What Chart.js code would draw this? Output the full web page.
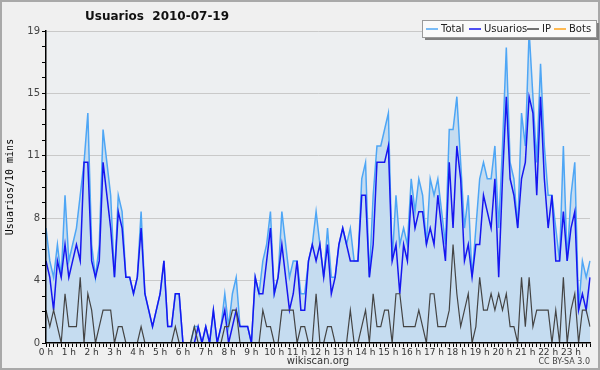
<!DOCTYPE html>
<html><head><meta charset="utf-8">
<script src="https://cdn.jsdelivr.net/npm/chart.js@4"></script>
<style>html,body{margin:0;padding:0;background:#f0f0f0;}#wrap{width:600px;height:370px;position:relative;}</style>
</head><body>
<div id="wrap"><canvas id="c" width="600" height="370"></canvas></div>
<script>
const chartTitle = 'Usuarios  2010-07-19';
const hourLabels = ['0 h','1 h','2 h','3 h','4 h','5 h','6 h','7 h','8 h','9 h','10 h','11 h','12 h','13 h','14 h','15 h','16 h','17 h','18 h','19 h','20 h','21 h','22 h','23 h'];
const yTickLabels = ['0','4','8','11','15','19'];
const yMax = 19;
const seriesNames = ['Total','Usuarios','IP','Bots'];
const totalValues = [
 7,5,4,6,4,9,5,6,7,9,
 11,14,6,4,6,13,11,9,4,9,
 8,4,4,3,4,8,3,2,1,2,
 3,5,1,1,3,3,0,0,0,1,
 1,0,1,0,2,0,1,3,1,3,
 4,1,1,1,0,4,3,5,6,8,
 3,4,8,6,4,5,5,3,3,5,
 6,8,6,4,7,4,4,6,7,6,
 7,5,5,10,11,4,9,12,12,13,
 14,5,9,6,7,6,10,8,10,9,
 6,10,9,10,8,6,13,13,15,11,
 7,9,4,7,10,11,10,10,12,7,
 12,18,11,10,7,14,12,19,15,11,
 17,12,9,9,7,5,12,5,9,11,
 2,5,4,5];
const usuariosValues = [
 5,4,2,5,4,6,4,5,6,5,
 11,11,5,4,5,11,9,7,4,8,
 7,4,4,3,4,7,3,2,1,2,
 3,5,1,1,3,3,0,0,0,0,
 1,0,1,0,2,0,1,2,0,1,
 2,1,1,1,0,4,3,3,5,7,
 3,4,6,4,2,3,5,2,2,5,
 6,5,6,4,6,3,4,6,7,6,
 5,5,5,9,9,4,6,11,11,11,
 12,5,6,3,6,5,9,7,8,8,
 6,7,6,9,7,5,11,7,12,10,
 5,6,4,6,6,9,8,7,10,4,
 10,15,10,9,7,10,11,15,14,9,
 15,10,7,9,5,5,8,5,7,8,
 2,3,2,4];
const ipValues = [
 2,1,2,1,0,3,1,1,1,4,
 0,3,2,0,1,2,2,2,0,1,
 1,0,0,0,0,1,0,0,0,0,
 0,0,0,0,1,0,0,0,0,1,
 0,0,0,0,0,0,0,1,1,2,
 2,0,0,0,0,0,0,2,1,1,
 0,0,2,2,2,2,0,1,1,0,
 0,3,0,0,1,1,0,0,0,0,
 2,0,0,1,2,0,3,1,1,2,
 2,0,3,3,1,1,1,1,2,1,
 0,3,3,1,1,1,2,6,3,1,
 2,3,0,1,4,2,2,3,2,3,
 2,3,1,1,0,4,1,4,1,2,
 2,2,2,0,2,0,4,0,2,3,
 0,2,2,1];
const botsValues = [
 0,0,0,0,0,0,0,0,0,0,
 0,0,0,0,0,0,0,0,0,0,
 0,0,0,0,0,0,0,0,0,0,
 0,0,0,0,0,0,0,0,0,0,
 0,0,0,0,0,0,0,0,0,0,
 0,0,0,0,0,0,0,0,0,0,
 0,0,0,0,0,0,0,0,0,0,
 0,0,0,0,0,0,0,0,0,0,
 0,0,0,0,0,0,0,0,0,0,
 0,0,0,0,0,0,0,0,0,0,
 0,0,0,0,0,0,0,0,0,0,
 0,0,0,0,0,0,0,0,0,0,
 0,0,0,0,0,0,0,0,0,0,
 0,0,0,0,0,0,0,0,0,0,
 0,0,0,0];

const colors = ['#4ea6f5','#1616f0','#444444','#ffa31a'];
const FONT = '"DejaVu Sans",sans-serif';

// 10-minute category labels built from the hour labels
const timeLabels = [];
hourLabels.forEach((h, hi) => { for (let m = 0; m < 6; m++) timeLabels.push(hi + ':' + m + '0'); });

const decor = {
  id: 'decor',
  beforeDraw(chart) {
    const ctx = chart.ctx, a = chart.chartArea;
    ctx.save();
    ctx.fillStyle = '#f0f0f0';
    ctx.fillRect(0, 0, chart.width, chart.height);
    ctx.fillStyle = '#edeff1';
    ctx.fillRect(a.left, a.top, a.right - a.left, a.bottom - a.top);
    ctx.restore();
  },
  afterDraw(chart) {
    const ctx = chart.ctx;
    ctx.save();
    // outer frame
    ctx.strokeStyle = '#a9a9a9';
    ctx.lineWidth = 2;
    ctx.strokeRect(1, 1, chart.width - 2, chart.height - 2);
    // title
    ctx.fillStyle = '#111';
    ctx.font = 'bold 12px ' + FONT;
    ctx.textBaseline = 'middle';
    ctx.textAlign = 'left';
    ctx.fillText(chartTitle, 85, 17);
    // legend box
    const bx = 422, by = 20, bw = 174, bh = 17;
    ctx.fillStyle = '#808080';
    ctx.fillRect(bx + 3, by + 3, bw, bh);
    ctx.fillStyle = '#fafafa';
    ctx.fillRect(bx, by, bw, bh);
    ctx.strokeStyle = '#9a9a9a';
    ctx.lineWidth = 1;
    ctx.strokeRect(bx + 0.5, by + 0.5, bw, bh);
    ctx.font = '10px ' + FONT;
    const ly = by + bh / 2 + 0.5;
    const lineX = [426, 469, 527, 554];
    seriesNames.forEach((n, i) => {
      const x = lineX[i];
      ctx.strokeStyle = colors[i];
      ctx.lineWidth = 1.5;
      ctx.beginPath(); ctx.moveTo(x, ly); ctx.lineTo(x + 12, ly); ctx.stroke();
      ctx.fillStyle = '#222';
      ctx.fillText(n, x + 15, ly);
    });
    // licence
    ctx.font = '8px ' + FONT;
    ctx.fillStyle = '#444';
    ctx.textAlign = 'right';
    ctx.fillText('CC BY-SA 3.0', 590, 362);
    ctx.restore();
  }
};

new Chart(document.getElementById('c'), {
  type: 'line',
  data: {
    labels: timeLabels,
    datasets: [
      { label: seriesNames[0], data: totalValues, borderColor: colors[0], backgroundColor: '#c5dcf0', fill: 'origin', borderWidth: 1.5, pointRadius: 0, tension: 0, order: 3 },
      { label: seriesNames[1], data: usuariosValues, borderColor: colors[1], borderWidth: 1.5, pointRadius: 0, tension: 0, fill: false, order: 2 },
      { label: seriesNames[2], data: ipValues, borderColor: colors[2], borderWidth: 1.2, pointRadius: 0, tension: 0, fill: false, order: 1 },
      { label: seriesNames[3], data: botsValues, borderColor: colors[3], borderWidth: 1, pointRadius: 0, tension: 0, fill: false, order: 0 }
    ]
  },
  options: {
    responsive: false,
    animation: false,
    layout: { padding: { left: 0, right: 10, top: 31, bottom: 0 } },
    plugins: { legend: { display: false }, title: { display: false }, tooltip: { enabled: false } },
    scales: {
      x: {
        type: 'category',
        offset: false,
        afterFit(s) { s.height = 27; },
        grid: { color: 'transparent', drawOnChartArea: false, tickColor: '#000', tickLength: 4, offset: false },
        border: { color: '#000', width: 1.5, z: 1 },
        ticks: {
          autoSkip: false, maxRotation: 0, minRotation: 0, padding: 0,
          font: { family: FONT, size: 9 }, color: '#333',
          callback: (v, i) => (i % 6 === 0 ? hourLabels[i / 6] : '')
        },
        title: { display: true, text: 'wikiscan.org', font: { family: FONT, size: 10 }, color: '#333', padding: { top: 0, bottom: 3 } }
      },
      y: {
        min: 0, max: yMax,
        afterFit(s) { s.width = 46; },
        afterBuildTicks(s) {
          const t = [];
          for (let k = 0; k <= 20; k++) t.push({ value: k * yMax / 20 });
          s.ticks = t;
        },
        grid: {
          color: c => (c.index % 4 === 0 && c.index > 0 ? '#c9c9c9' : 'transparent'),
          tickColor: '#000', tickLength: 4, lineWidth: 1
        },
        border: { color: '#000', width: 1.5, z: 1 },
        ticks: {
          padding: 2, font: { family: FONT, size: 10 }, color: '#444',
          callback: (v, i) => (i % 4 === 0 ? yTickLabels[i / 4] : '')
        },
        title: { display: true, text: 'Usuarios/10 mins', font: { family: '"DejaVu Sans Mono",monospace', size: 10 }, color: '#000', padding: { top: 4, bottom: 0 } }
      }
    }
  },
  plugins: [decor]
});
</script>
</body></html>
